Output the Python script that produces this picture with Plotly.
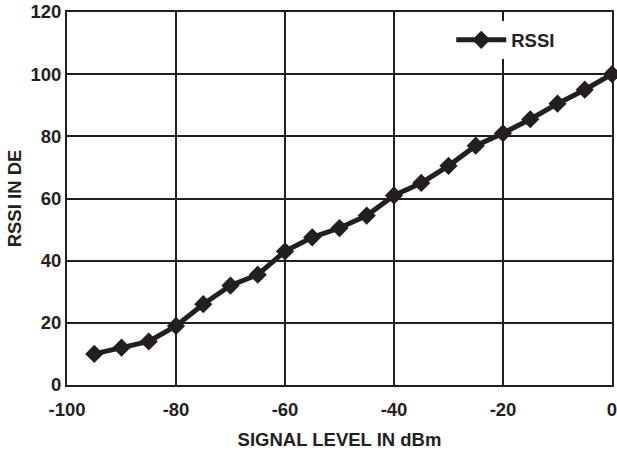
import plotly.graph_objects as go

signal_dbm = [-95, -90, -85, -80, -75, -70, -65, -60, -55, -50, -45, -40, -35, -30, -25, -20, -15, -10, -5, 0]
rssi = [10, 12, 14, 19, 26, 32, 35.5, 43, 47.5, 50.5, 54.5, 61, 65, 70.5, 77, 81, 85.5, 90.5, 95, 100]

x_ticks = [-100, -80, -60, -40, -20, 0]
y_ticks = [0, 20, 40, 60, 80, 100, 120]

ink = "#231f20"
font = "Liberation Sans, Arial, sans-serif"
fs = 18.5

fig = go.Figure()
fig.add_trace(go.Scatter(
    x=signal_dbm, y=rssi, mode="lines+markers", name="<b>RSSI</b>",
    line=dict(color=ink, width=5),
    marker=dict(symbol="diamond", size=14, color=ink),
    cliponaxis=False,
))

fig.update_layout(
    width=617, height=451,
    margin=dict(l=67, r=5, t=12, b=66, autoexpand=False),
    paper_bgcolor="white", plot_bgcolor="white",
    font=dict(family=font, color=ink, size=fs),
    showlegend=True,
    legend=dict(x=0.705, y=0.975, xanchor="left", yanchor="top",
                bgcolor="white", borderwidth=0,
                font=dict(size=fs, family=font, color=ink),
                itemwidth=50, tracegroupgap=0),
    xaxis=dict(range=[-100, 0], tickvals=x_ticks, ticktext=[f"<b>{v}</b>" for v in x_ticks],
               showgrid=True, gridcolor=ink, gridwidth=2,
               showline=True, linecolor=ink, linewidth=2, mirror=True,
               zeroline=False, ticks="", ticklen=0, automargin=False,
               ticklabeloverflow="allow", ticklabelstandoff=7,
               tickfont=dict(size=fs),
               title=dict(text="<b>SIGNAL LEVEL IN dBm</b>", font=dict(size=fs), standoff=14)),
    yaxis=dict(range=[0, 120], tickvals=y_ticks, ticktext=[f"<b>{v}</b>" for v in y_ticks],
               showgrid=True, gridcolor=ink, gridwidth=2,
               showline=True, linecolor=ink, linewidth=2, mirror=True,
               zeroline=False, ticks="", ticklen=0, automargin=False,
               ticklabeloverflow="allow", ticklabelstandoff=0,
               tickfont=dict(size=fs),
               title=dict(text="<b>RSSI IN DE</b>", font=dict(size=fs), standoff=4)),
)

# remove the browser's default page margin so the figure fills the window exactly
fig.write_html("out.html", config={"displayModeBar": False},
               post_script="document.body.style.margin='0';")
